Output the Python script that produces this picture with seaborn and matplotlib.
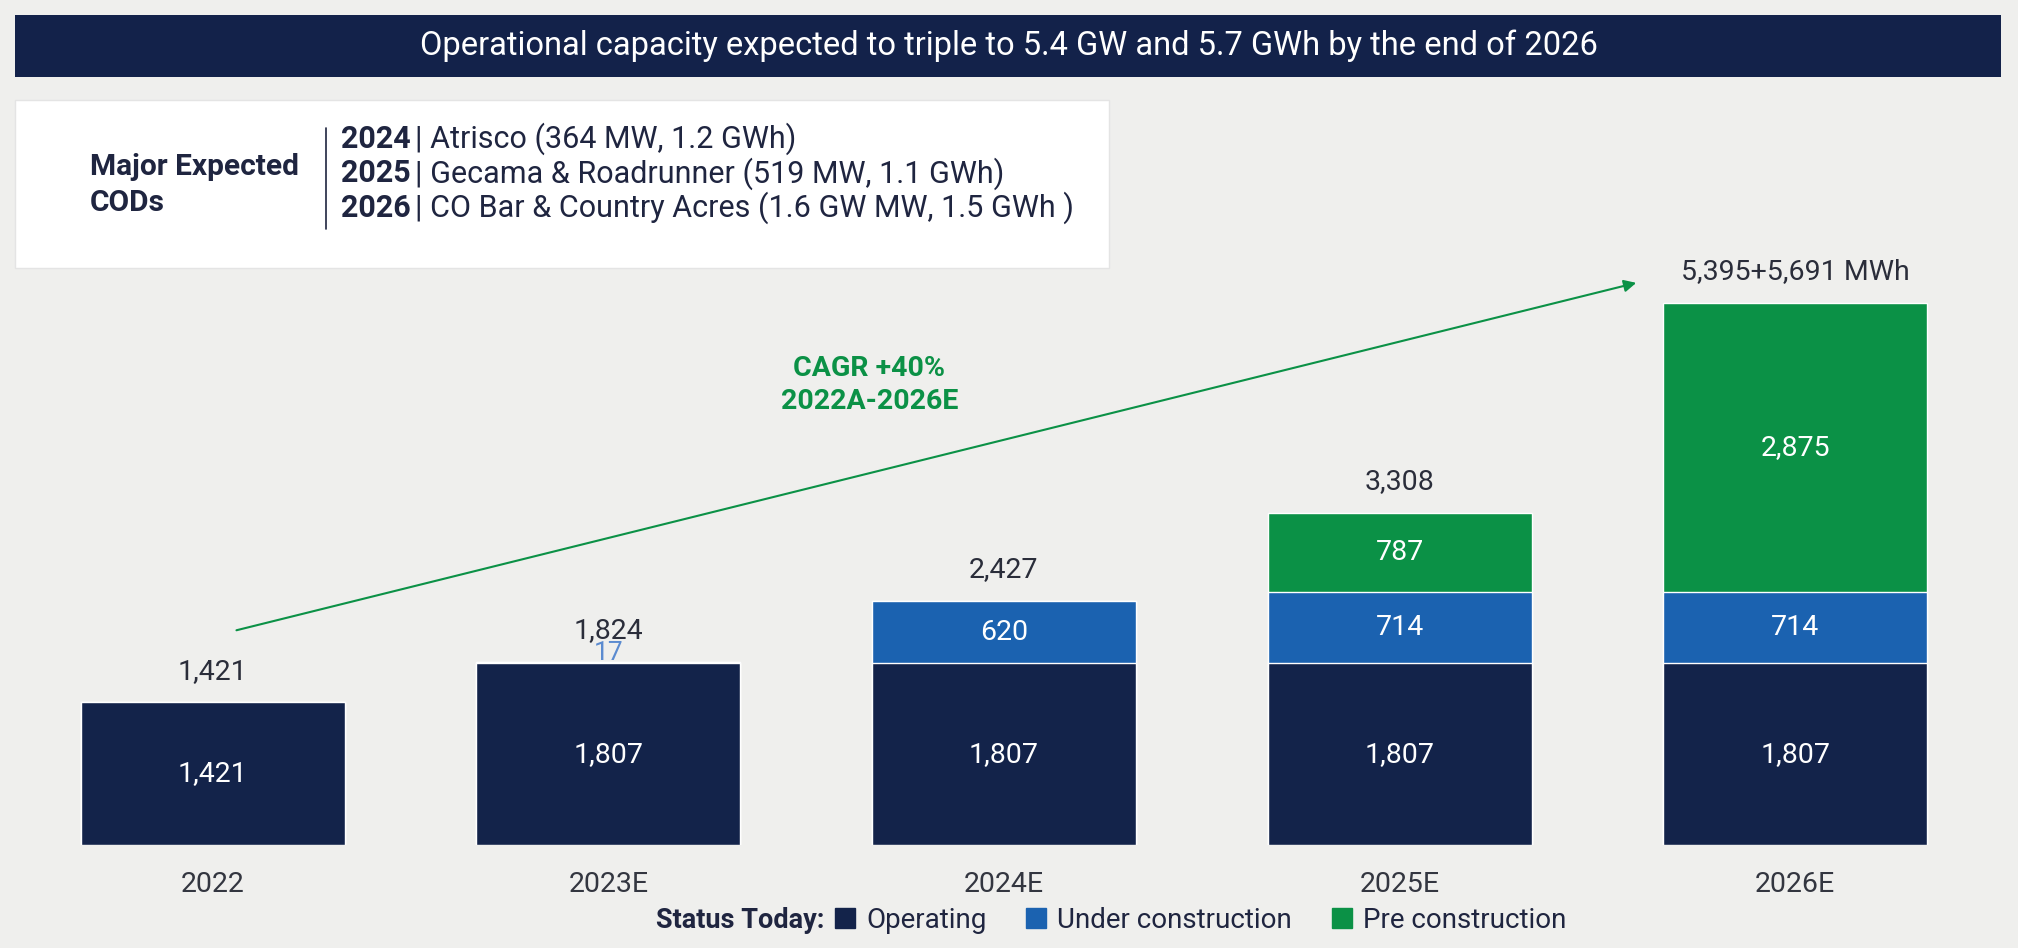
import matplotlib
matplotlib.use("Agg")
import matplotlib.pyplot as plt
from matplotlib.patches import Rectangle
from matplotlib.lines import Line2D
import seaborn as sns
import pandas as pd

# chart data
years = ["2022", "2023E", "2024E", "2025E", "2026E"]
operating = [1421, 1807, 1807, 1807, 1807]
under_construction = [0, 17, 620, 714, 714]
pre_construction = [0, 0, 0, 787, 2875]
total_labels = ["1,421", "1,824", "2,427", "3,308", "5,395+5,691 MWh"]
cod_years = ["2024", "2025", "2026"]
cod_projects = ["Atrisco (364 MW, 1.2 GWh)",
                "Gecama & Roadrunner (519 MW, 1.1 GWh)",
                "CO Bar & Country Acres (1.6 GW MW, 1.5 GWh )"]

navy = "#13234a"
blue = "#1b62b0"
green = "#0b9146"
text_dark = "#1f2540"

sns.set_theme(style="white")
plt.rcParams["font.family"] = ["Roboto", "DejaVu Sans"]

df = pd.DataFrame({"year": years, "op": operating, "uc": under_construction, "pc": pre_construction})
df["op_uc"] = df["op"] + df["uc"]
df["all"] = df["op_uc"] + df["pc"]

W, H = 2018, 948
fig = plt.figure(figsize=(W / 100, H / 100), dpi=100)
fig.patch.set_facecolor("#efefed")

def fx(x):
    return x / W

def fy(y):
    return 1 - y / H

ax = fig.add_axes([fx(15), fy(845), (1993 - 15) / W, (845 - 100) / H])
ax.set_facecolor("none")

# stacked bars drawn as cumulative layers
sns.barplot(data=df, x="year", y="all", color=green, width=0.667, saturation=1, ax=ax)
sns.barplot(data=df, x="year", y="op_uc", color=blue, width=0.667, saturation=1, ax=ax)
sns.barplot(data=df, x="year", y="op", color=navy, width=0.667, saturation=1, ax=ax)

ax.set_xlim(-0.5, 4.5)
ax.set_ylim(0, 7413)
ax.set_xlabel("")
ax.set_ylabel("")
ax.set_yticks([])
for s in ax.spines.values():
    s.set_visible(False)
ax.tick_params(axis="x", length=0, pad=19, labelsize=20.5, labelcolor="#333640")

# segment labels
for i in range(len(years)):
    op, uc, pc = operating[i], under_construction[i], pre_construction[i]
    ax.text(i, op / 2, f"{op:,}", ha="center", va="center", color="white", fontsize=20.5)
    if uc > 100:
        ax.text(i, op + uc / 2, f"{uc:,}", ha="center", va="center", color="white", fontsize=20.5)
    elif uc > 0:
        ax.text(i, op + uc + 90, f"{uc:,}", ha="center", va="center", color="#5b8bd0", fontsize=19)
    if pc > 0:
        ax.text(i, op + uc + pc / 2, f"{pc:,}", ha="center", va="center", color="white", fontsize=20.5)
    top = op + uc + pc
    ax.text(i, top + 310, total_labels[i], ha="center", va="center", color="#2a2d3a", fontsize=20.5)

# CAGR arrow
ax.annotate("", xy=(3.605, 5600), xytext=(0.053, 2130),
            arrowprops=dict(arrowstyle="-|>", color=green, lw=1.5, mutation_scale=18))
ax.text(1.66, 4580, "CAGR +40%\n2022A-2026E", ha="center", va="center", color=green,
        fontsize=20.5, fontweight="bold", linespacing=1.3)

# title bar
fig.add_artist(Rectangle((fx(15), fy(77)), (2001 - 15) / W, (77 - 15) / H,
                         transform=fig.transFigure, facecolor="#13224a", edgecolor="none"))
fig.text(0.5, fy(46), "Operational capacity expected to triple to 5.4 GW and 5.7 GWh by the end of 2026",
         ha="center", va="center", color="white", fontsize=23.5)

# COD box
fig.add_artist(Rectangle((fx(15), fy(268)), (1109 - 15) / W, (268 - 100) / H,
                         transform=fig.transFigure, facecolor="white", edgecolor="#e4e4e4", lw=1))
fig.text(fx(90), fy(185), "Major Expected\nCODs", ha="left", va="center", color=text_dark,
         fontsize=21.5, fontweight="bold", linespacing=1.4)
fig.add_artist(Line2D([fx(326), fx(326)], [fy(128), fy(229)], transform=fig.transFigure,
                      color=text_dark, lw=1.2))
renderer = fig.canvas.get_renderer()
for k, (yr, proj) in enumerate(zip(cod_years, cod_projects)):
    yy = fy(139 + 34.5 * k)
    t = fig.text(fx(341), yy, yr, ha="left", va="center", color=text_dark, fontsize=22, fontweight="bold")
    bb = t.get_window_extent(renderer=renderer)
    fig.text(bb.x1 / W + 0.002, yy, "| " + proj, ha="left", va="center", color=text_dark, fontsize=22)

# legend
fig.text(fx(824), fy(920), "Status Today:", ha="right", va="center", color=text_dark,
         fontsize=19.5, fontweight="bold")
handles = [Line2D([], [], marker="s", ls="none", color=c, markersize=14) for c in (navy, blue, green)]
fig.legend(handles, ["Operating", "Under construction", "Pre construction"], loc="center left",
           bbox_to_anchor=(fx(834), fy(920)), ncol=3, frameon=False, fontsize=20,
           borderpad=0, borderaxespad=0, handletextpad=0.35, columnspacing=1.4,
           handlelength=0.8, labelcolor=text_dark)

fig.savefig("out.png", dpi=100, facecolor=fig.get_facecolor())
